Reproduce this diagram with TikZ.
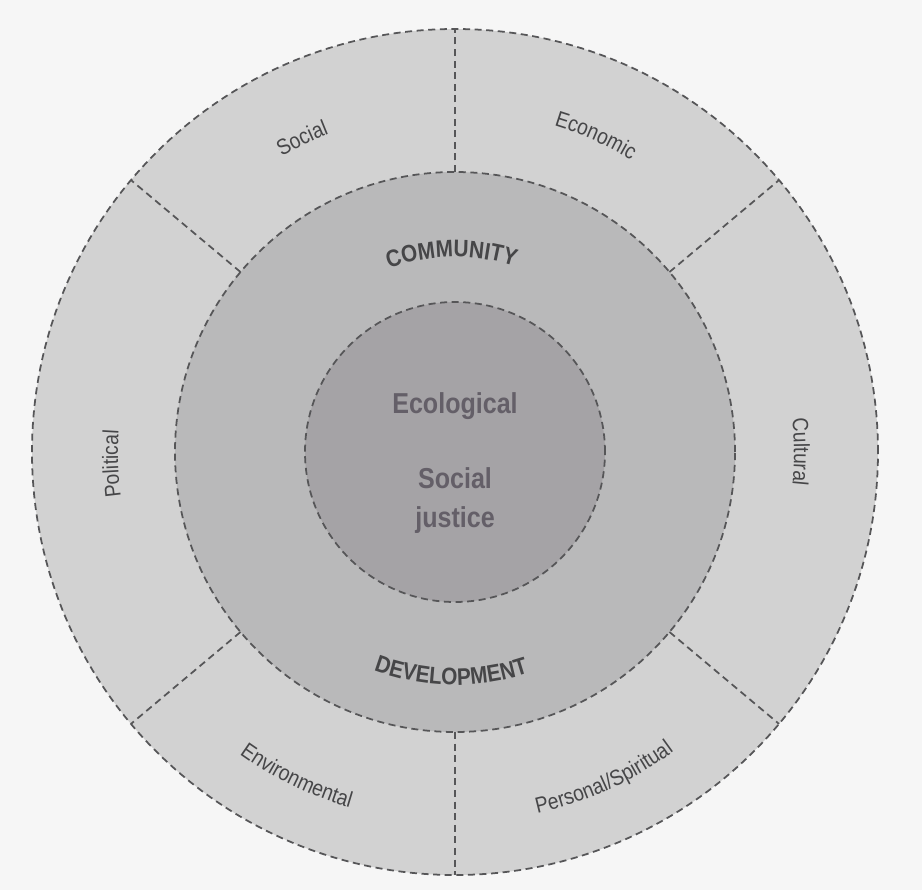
\documentclass[tikz,border=0pt]{standalone}
\usepackage{xcolor}
\usepackage{fontspec}
\setmainfont{Liberation Sans}
\newfontfamily\condfont[FakeStretch=0.87]{Liberation Sans}
\usepackage{tikz}
\usetikzlibrary{shapes,positioning,decorations.text}

\definecolor{paper}{RGB}{246,246,246}
\definecolor{ringgray}{RGB}{210,210,210}
\definecolor{bandgray}{RGB}{185,185,186}
\definecolor{coregray}{RGB}{165,163,166}
\definecolor{linegray}{RGB}{86,86,88}
\definecolor{textgray}{RGB}{70,70,72}
\definecolor{coretext}{RGB}{100,95,104}

\newcommand{\ringfont}{\condfont\fontsize{12.6}{14}\selectfont\color{textgray}}
\newcommand{\bandfont}{\condfont\bfseries\fontsize{13.6}{15}\selectfont\color{textgray}}

\begin{document}
\begin{tikzpicture}[
    disc/.style={circle, draw=linegray, line width=1pt, dash pattern=on 4pt off 2.6pt, inner sep=0pt, outer sep=0pt},
    divider/.style={draw=linegray, line width=1pt, dash pattern=on 4pt off 2.6pt},
    core/.style={font=\condfont\bfseries\fontsize{16.4}{22}\selectfont, text=coretext, anchor=base},
    ringlabel/.style={decorate, decoration={text along path, text align=center, text={|\ringfont|#1}}},
    bandlabel/.style={decorate, decoration={text along path, text align=center, text={|\bandfont|#1}}}
]
\useasboundingbox[fill=paper] (-9.1,-8.76) rectangle (9.34,9.04);

\node[disc, fill=ringgray, minimum size=16.92cm] (outer) at (0,0) {};
\node[disc, fill=bandgray, minimum size=11.2cm] (middle) at (0,0) {};
\node[disc, fill=coregray, minimum size=6cm] (inner) at (0,0) {};

\draw[divider] (middle.90) -- (outer.90);
\draw[divider] (middle.40) -- (outer.40);
\draw[divider] (middle.140) -- (outer.140);
\draw[divider] (middle.220) -- (outer.220);
\draw[divider] (middle.270) -- (outer.270);
\draw[divider] (middle.320) -- (outer.320);

\path[ringlabel=Social] (146:6.84) arc[start angle=146, end angle=86, radius=6.84];
\path[ringlabel=Economic] (96:6.82) arc[start angle=96, end angle=36, radius=6.82];
\path[ringlabel=Political] (212:6.74) arc[start angle=212, end angle=152, radius=6.74];
\path[ringlabel=Cultural] (30:6.78) arc[start angle=30, end angle=-30, radius=6.78];
\path[ringlabel=Environmental] (214:7.42) arc[start angle=214, end angle=274, radius=7.42];
\path[ringlabel=Personal/Spiritual] (262:7.42) arc[start angle=262, end angle=327, radius=7.42];

\path[bandlabel=COMMUNITY] (131:3.9) arc[start angle=131, end angle=51, radius=3.9];
\path[bandlabel=DEVELOPMENT] (229:4.66) arc[start angle=229, end angle=309, radius=4.66];

\node[core] (eco) at (0,0.78) {Ecological};
\node[core] (social) at (0,-0.72) {Social};
\node[core] (justice) at ([yshift=-0.78cm]social.base) {justice};
\end{tikzpicture}
\end{document}
